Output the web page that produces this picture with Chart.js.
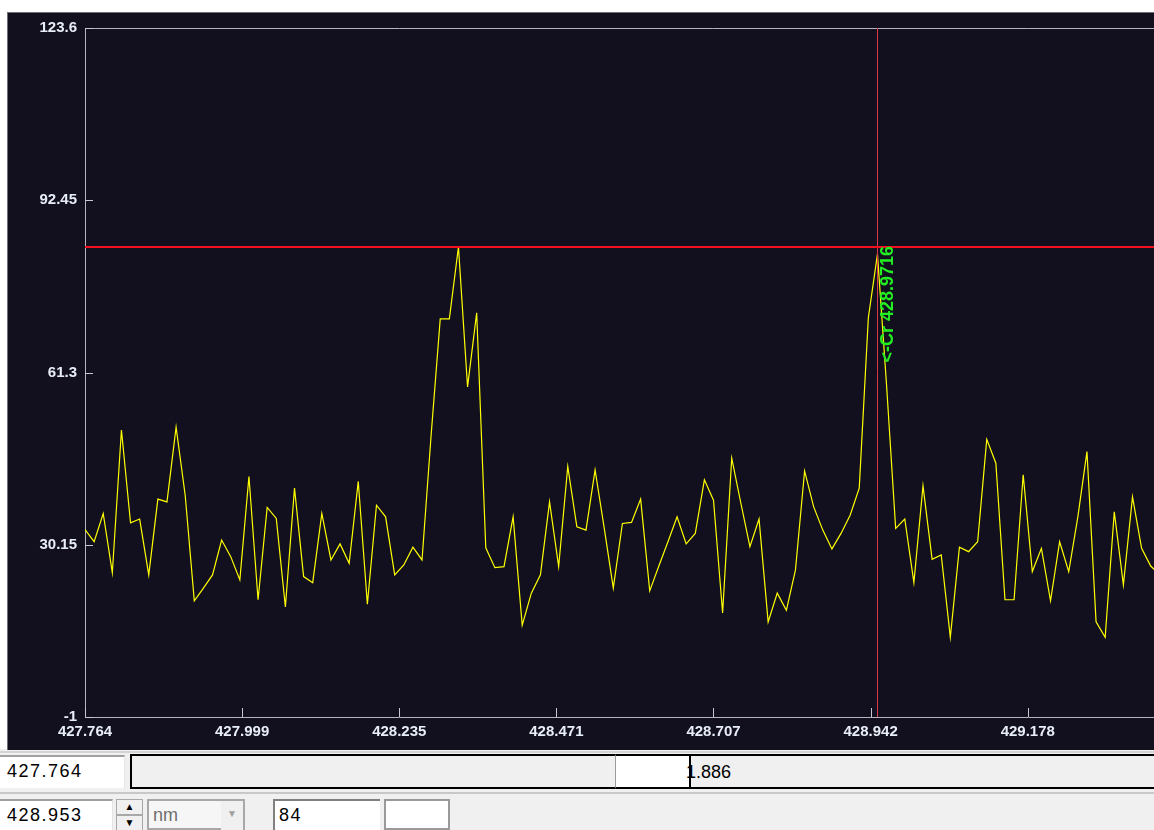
<!DOCTYPE html>
<html>
<head>
<meta charset="utf-8">
<script src="https://cdn.jsdelivr.net/npm/chart.js@4.4.1/dist/chart.umd.min.js"></script>
<style>
  html, body { margin: 0; padding: 0; }
  body {
    width: 1154px; height: 830px; overflow: hidden; position: relative;
    background: #f0f0f0; font-family: "Liberation Sans", Arial, sans-serif;
  }
  .whiteTop { position: absolute; left: 0; top: 0; width: 1154px; height: 12px; background: #fff; }
  .whiteLeft { position: absolute; left: 0; top: 0; width: 8px; height: 749px; background: #fff; }
  #panel {
    position: absolute; left: 7px; top: 12px; width: 1400px; height: 737px;
    background: #12101e; border-top: 1px solid #6e6e78; border-left: 1px solid #6e6e78;
  }
  #chartBox { position: absolute; left: 8px; top: 12px; width: 1350px; height: 736px; }
  .ctl { position: absolute; box-sizing: border-box; font-size: 18px; color: #000; }
  .field { background: #fff; border-top: 2px solid #a0a0a0; padding-left: 7px; line-height: 29px; letter-spacing: 1.5px; }
  .sep { position: absolute; left: 0; width: 1154px; height: 2px; background: #d4d4d4; }
</style>
</head>
<body>
<div class="whiteTop"></div>
<div class="whiteLeft"></div>
<div id="panel"></div>
<div id="chartBox"><canvas id="spectrumChart" width="1350" height="736"></canvas></div>

<!-- controles de abajo -->
<div class="sep" style="top:751px;"></div>
<div class="ctl field" style="left:0; top:755px; width:125px; height:33px; border-right:1px solid #e4e4e4;">427.764</div>
<div class="ctl" style="left:130px; top:754px; width:1100px; height:35px; background:#f0f0f0; border:2px solid #000;"></div>
<div class="ctl" style="left:615px; top:754px; width:76px; height:35px; background:#fff; border:2px solid #000; border-left:1px solid #9a9a9a;"></div>
<div class="ctl" style="left:686px; top:759px; line-height:26px;">1.886</div>
<div class="sep" style="top:792px; background:#c8c8c8;"></div>
<div class="ctl field" style="left:0; top:799px; width:113px; height:31px; border-right:1px solid #e4e4e4;">428.953</div>
<div class="ctl" style="left:116px; top:799px; width:27px; height:16px; background:#f0f0f0; border:1px solid #a8a8a8; font-size:10px; text-align:center; line-height:14px;">&#9650;</div>
<div class="ctl" style="left:116px; top:815px; width:27px; height:16px; background:#f0f0f0; border:1px solid #a8a8a8; font-size:10px; text-align:center; line-height:14px;">&#9660;</div>
<div class="ctl" style="left:147px; top:799px; width:98px; height:31px; background:#f6f6f6; border:2px solid #a8a8a8; color:#6d6d6d; padding-left:4px; line-height:29px;">nm</div>
<div class="ctl" style="left:221px; top:801px; width:22px; height:29px; background:#f0f0f0; color:#a0a0a0; font-size:10px; text-align:center; line-height:26px;">&#9660;</div>
<div class="ctl field" style="left:273px; top:799px; width:107px; height:31px; border-top:2px solid #808080; border-left:2px solid #808080; padding-left:4px;">84</div>
<div class="ctl" style="left:384px; top:799px; width:66px; height:31px; background:#fff; border:2px solid #9a9a9a;"></div>

<script>
// Datos del espectro (intensidad por canal)
const startNm = 427.764;
const spanNm = 1.886;
const channels = 138;
const intensity = [
  32.9, 30.7, 35.8, 25.1, 50.9, 34.1, 34.8, 24.7, 38.4, 37.9,
  51.4, 39.1, 20.0, 22.3, 24.7, 31.0, 28.0, 23.8, 42.5, 20.2,
  36.9, 34.9, 18.9, 40.4, 24.4, 23.3, 35.8, 27.4, 30.3, 26.8,
  41.6, 19.4, 37.3, 35.2, 24.7, 26.5, 29.7, 27.4, 50.0, 71.0,
  71.0, 84.0, 58.7, 72.1, 29.6, 26.0, 26.2, 35.2, 15.6, 21.4,
  24.7, 37.9, 26.2, 44.3, 33.4, 32.8, 43.7, 33.2, 22.3, 34.0,
  34.2, 38.4, 21.8, 26.3, 30.7, 35.2, 30.3, 32.2, 41.9, 38.2,
  17.8, 45.8, 37.7, 29.8, 34.8, 16.2, 21.4, 18.3, 25.6, 43.5,
  37.0, 32.8, 29.4, 32.2, 35.5, 40.4, 71.2, 82.7, 59.0, 33.1,
  34.8, 23.3, 40.8, 27.5, 28.3, 13.4, 29.7, 28.9, 30.7, 49.2,
  44.9, 20.2, 20.2, 42.8, 25.3, 29.5, 20.0, 30.7, 25.3, 35.2,
  47.0, 16.2, 13.4, 36.1, 22.9, 38.8, 29.5, 26.3, 24.7
];
const xTickValues = [427.764, 427.99975, 428.2355, 428.47125, 428.707, 428.94275, 429.1785, 429.41425, 429.650];
const xTickLabels = ['427.764', '427.999', '428.235', '428.471', '428.707', '428.942', '429.178', '429.414', '429.650'];
const yTickValues = [-1, 30.15, 61.3, 92.45, 123.6];
const yTickLabels = ['-1', '30.15', '61.3', '92.45', '123.6'];
const threshold = 84;
const cursorNm = 428.953;
const peakNm = 428.9716;
const peakText = '<-Cr 428.9716';

const stepNm = spanNm / channels;
const points = intensity.map((v, i) => ({ x: startNm + i * stepNm, y: v }));

// Marco, marcas hacia dentro, umbral, cursor y etiqueta
const overlayPlugin = {
  id: 'overlay',
  afterDatasetsDraw(chart) {
    const { ctx, chartArea, scales } = chart;
    const x = scales.x, y = scales.y;
    ctx.save();
    ctx.strokeStyle = '#b4b4bc';
    ctx.lineWidth = 1;
    ctx.beginPath();
    ctx.moveTo(chartArea.left, chartArea.top + 0.5);
    ctx.lineTo(chartArea.right, chartArea.top + 0.5);
    ctx.stroke();
    ctx.strokeStyle = '#c8c8d0';
    ctx.beginPath();
    xTickValues.forEach(v => {
      const px = Math.round(x.getPixelForValue(v)) + 0.5;
      ctx.moveTo(px, chartArea.bottom);
      ctx.lineTo(px, chartArea.bottom - 9);
    });
    yTickValues.forEach(v => {
      const py = Math.round(y.getPixelForValue(v)) + 0.5;
      ctx.moveTo(chartArea.left, py);
      ctx.lineTo(chartArea.left + 8, py);
    });
    ctx.stroke();

    // cursor vertical
    const cx = Math.round(x.getPixelForValue(cursorNm)) + 0.5;
    ctx.strokeStyle = '#d83848';
    ctx.lineWidth = 1;
    ctx.beginPath();
    ctx.moveTo(cx, chartArea.top);
    ctx.lineTo(cx, chartArea.bottom);
    ctx.stroke();

    // línea de umbral
    const ty = y.getPixelForValue(threshold);
    ctx.strokeStyle = '#f01020';
    ctx.lineWidth = 2;
    ctx.beginPath();
    ctx.moveTo(chartArea.left, ty);
    ctx.lineTo(chartArea.right, ty);
    ctx.stroke();

    // etiqueta del pico
    ctx.translate(x.getPixelForValue(peakNm) + 3, ty - 1);
    ctx.rotate(-Math.PI / 2);
    ctx.fillStyle = '#22ee22';
    ctx.font = 'bold 18px "Liberation Sans", Arial, sans-serif';
    ctx.textAlign = 'right';
    ctx.textBaseline = 'alphabetic';
    ctx.fillText(peakText, 0, 0);
    ctx.restore();
  }
};

const tickFont = { family: '"Liberation Sans", Arial, sans-serif', size: 15, weight: 'bold' };

const ctx = document.getElementById('spectrumChart').getContext('2d');
const spectrumChart = new Chart(ctx, {
  type: 'line',
  data: {
    datasets: [{
      data: points,
      borderColor: '#ffff00',
      borderWidth: 1.2,
      pointRadius: 0,
      tension: 0,
      fill: false
    }]
  },
  options: {
    responsive: false,
    animation: false,
    devicePixelRatio: 1,
    layout: { padding: { top: 16, right: 16, left: 0, bottom: 0 } },
    plugins: { legend: { display: false }, tooltip: { enabled: false } },
    scales: {
      x: {
        type: 'linear',
        min: startNm,
        max: startNm + spanNm,
        afterBuildTicks: s => { s.ticks = xTickValues.map(v => ({ value: v })); },
        afterFit: s => { s.height = 31; s.paddingLeft = 0; s.paddingRight = 0; },
        grid: { display: false, drawTicks: false },
        border: { display: true, color: '#b4b4bc', width: 1 },
        ticks: {
          autoSkip: false,
          maxRotation: 0,
          padding: 6,
          color: '#e8eef8',
          font: tickFont,
          callback: (v, i) => xTickLabels[i]
        }
      },
      y: {
        type: 'linear',
        min: -1,
        max: 123.6,
        afterBuildTicks: s => { s.ticks = yTickValues.map(v => ({ value: v })); },
        afterFit: s => { s.width = 77; s.paddingTop = 0; s.paddingBottom = 0; },
        grid: { display: false, drawTicks: false },
        border: { display: true, color: '#b4b4bc', width: 1 },
        ticks: {
          autoSkip: false,
          padding: 8,
          color: '#e8eef8',
          font: tickFont,
          callback: (v, i) => yTickLabels[i]
        }
      }
    }
  },
  plugins: [overlayPlugin]
});
</script>
</body>
</html>
